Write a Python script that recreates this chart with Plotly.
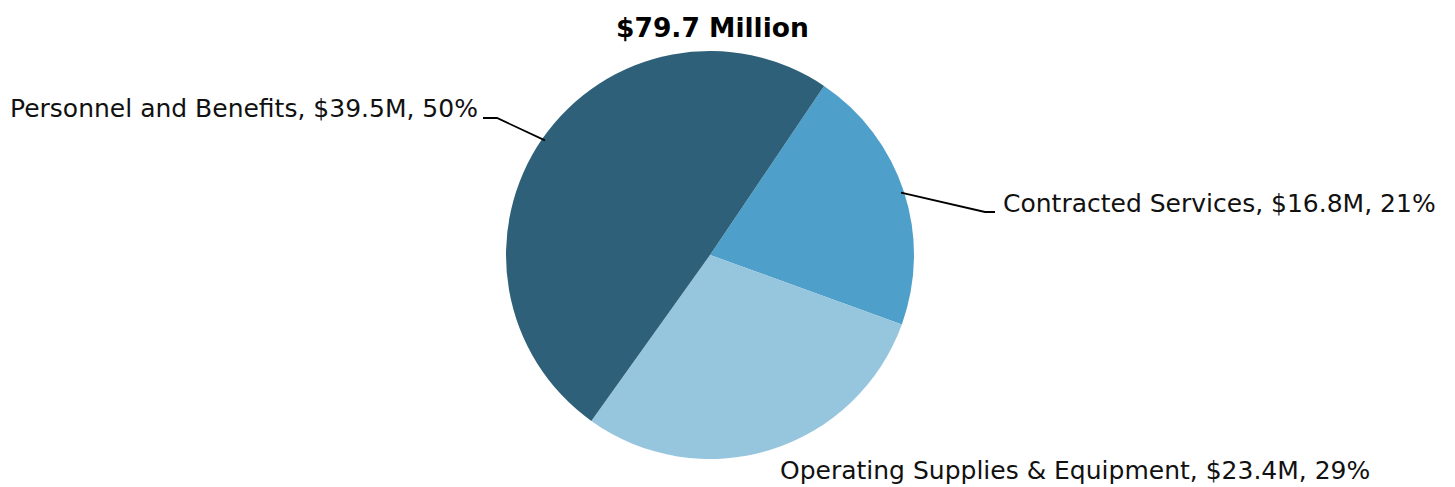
import math
import plotly.graph_objects as go

# Budget breakdown (millions of dollars)
categories = ["Contracted Services", "Operating Supplies & Equipment", "Personnel and Benefits"]
amounts = [16.8, 23.4, 39.5]
percents = [21, 29, 50]
colors = ["#4EA0CB", "#96C5DE", "#2E6179"]
total_label = "$79.7 Million"

W, H = 1455, 487
cx, cy, r = 710, 255, 204          # pie centre / radius in pixels
rotation = 34                       # start angle of first slice, clockwise from 12 o'clock

def px(x):
    return x / W

def py(y):
    return 1 - y / H

fig = go.Figure(go.Pie(
    labels=categories,
    values=amounts,
    sort=False,
    direction="clockwise",
    rotation=rotation,
    marker=dict(colors=colors, line=dict(width=0)),
    textinfo="none",
    hoverinfo="label+value+percent",
    showlegend=False,
    domain=dict(x=[px(cx - r), px(cx + r)], y=[py(cy + r), py(cy - r)]),
))

# mid-angle of every slice, used to anchor leader lines on the rim
total = sum(amounts)
mids = []
acc = 0.0
for v in amounts:
    mids.append(rotation + (acc + v / 2) / total * 360)
    acc += v

def rim(angle_deg, k=1.0):
    a = math.radians(angle_deg)
    return cx + k * r * math.sin(a), cy - k * r * math.cos(a)

font = dict(family="DejaVu Sans", size=25, color="#111111")

# label text anchors (pixel positions) and leader elbows
labels_cfg = [
    dict(text=f"{categories[0]}, ${amounts[0]}M, {percents[0]}%", x=1001, y=203, xanchor="left",
         elbow=(985, 212), end=(995, 212), line=True),
    dict(text=f"{categories[1]}, ${amounts[1]}M, {percents[1]}%", x=1075, y=470, xanchor="center",
         elbow=None, end=None, line=False),
    dict(text=f"{categories[2]}, ${amounts[2]}M, {percents[2]}%", x=8, y=109, xanchor="left",
         elbow=(497, 118), end=(483, 118), line=True),
]

shapes = []
annotations = []
for i, cfg in enumerate(labels_cfg):
    annotations.append(dict(
        text=cfg["text"], x=px(cfg["x"]), y=py(cfg["y"]), xref="paper", yref="paper",
        xanchor=cfg["xanchor"], yanchor="middle", showarrow=False, font=font,
    ))
    if cfg["line"]:
        sx, sy = rim(mids[i], 0.985)
        ex, ey = cfg["elbow"]
        tx, ty = cfg["end"]
        path = f"M {px(sx)} {py(sy)} L {px(ex)} {py(ey)} L {px(tx)} {py(ty)}"
        shapes.append(dict(type="path", path=path, xref="paper", yref="paper",
                           line=dict(color="#000000", width=1.8)))

annotations.append(dict(
    text=f"<b>{total_label}</b>", x=px(712), y=py(28), xref="paper", yref="paper",
    xanchor="center", yanchor="middle", showarrow=False,
    font=dict(family="DejaVu Sans", size=26.5, color="#000000"),
))

fig.update_layout(
    width=W, height=H,
    margin=dict(l=0, r=0, t=0, b=0),
    paper_bgcolor="white",
    plot_bgcolor="white",
    shapes=shapes,
    annotations=annotations,
)

fig.write_html("out.html")
